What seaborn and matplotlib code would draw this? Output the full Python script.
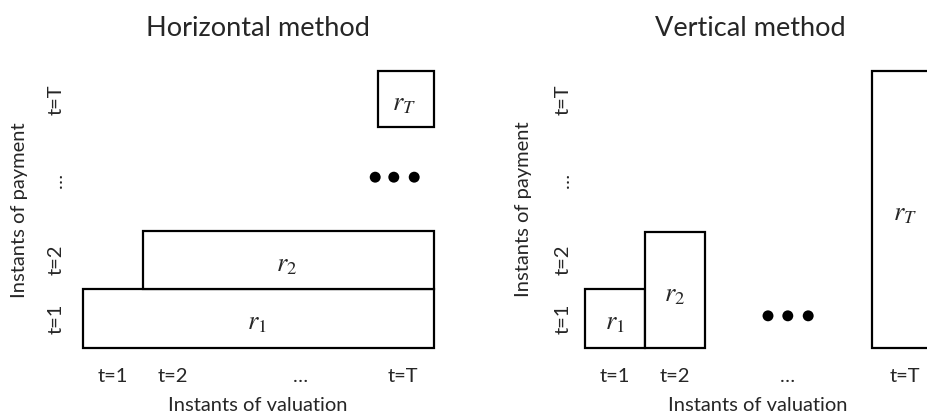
import matplotlib
matplotlib.use("Agg")
import matplotlib.pyplot as plt
import seaborn as sns
import pandas as pd

# ---------------- data ----------------
val_labels = ["t=1", "t=2", "…", "t=T"]          # instants of valuation (x)
pay_labels = ["t=1", "t=2", "…", "t=T"]          # instants of payment (y)
r_labels = ["$r_1$", "$r_2$", "$r_T$"]

# Horizontal method: each r_t spans valuation start..end at payment row t
h_x_start = [0.0, 1.0, 4.92]
h_x_end = [5.85, 5.85, 5.85]
h_y_bottom = [0.0, 1.0, 3.78]
h_y_top = [1.0, 2.0, 4.735]

# Vertical method: each r_t spans payment rows 1..t at valuation slot t
v_x_start = [0.0, 1.0, 4.78]
v_x_end = [1.0, 2.0, 5.90]
v_y_top = [1.0, 1.98, 4.735]

# tick positions
h_xticks = [0.5, 1.5, 3.63, 5.33]
v_xticks = [0.5, 1.5, 3.38, 5.33]
yticks = [0.5, 1.5, 2.87, 4.24]

# ellipsis dots
h_dots_x = [4.87, 5.18, 5.52]
h_dots_y = [2.92, 2.92, 2.92]
v_dots_x = [3.05, 3.38, 3.72]
v_dots_y = [0.55, 0.55, 0.55]

# ---------------- style ----------------
sns.set_theme(style="white")
plt.rcParams["font.family"] = ["Lato", "DejaVu Sans"]
plt.rcParams["mathtext.fontset"] = "stix"

W, H = 927, 415
fig = plt.figure(figsize=(W / 100, H / 100), dpi=100)


def px_axes(l, r, t, b):
    return fig.add_axes([l / W, 1 - b / H, (r - l) / W, (b - t) / H])


ax1 = px_axes(83, 434, 71, 348)
ax2 = px_axes(585, 927, 71, 348)

YMAX = 4.735
TICK_FS = 14.5
LABEL_FS = 14.5
R_FS = 19
TITLE_FS = 19.5

for ax in (ax1, ax2):
    ax.set_ylim(0, YMAX)
    for s in ax.spines.values():
        s.set_visible(False)
    ax.set_facecolor("none")
    ax.tick_params(length=0)

ax1.set_xlim(0, 5.85)
ax2.set_xlim(0, (927 - 585) / 60)

# ---- horizontal method ----
hdf = pd.DataFrame({"start": h_x_start, "end": h_x_end,
                    "bottom": h_y_bottom, "top": h_y_top, "label": r_labels})
ax1.barh(y=hdf["bottom"], width=hdf["end"] - hdf["start"], left=hdf["start"],
         height=hdf["top"] - hdf["bottom"], align="edge",
         facecolor="white", edgecolor="black", linewidth=1.6, clip_on=False)
for _, row in hdf.iterrows():
    ax1.text((row["start"] + row["end"]) / 2 - 0.03, (row["bottom"] + row["top"]) / 2 - 0.07,
             row["label"], ha="center", va="center", fontsize=R_FS)
sns.scatterplot(x=h_dots_x, y=h_dots_y, ax=ax1, color="black", s=62,
                edgecolor="none", clip_on=False, legend=False)

# ---- vertical method ----
vdf = pd.DataFrame({"start": v_x_start, "end": v_x_end, "top": v_y_top, "label": r_labels})
ax2.bar(x=vdf["start"], height=vdf["top"], width=vdf["end"] - vdf["start"], bottom=0,
        align="edge", facecolor="white", edgecolor="black", linewidth=1.6, clip_on=False)
for _, row in vdf.iterrows():
    ax2.text((row["start"] + row["end"]) / 2, row["top"] / 2 - 0.07,
             row["label"], ha="center", va="center", fontsize=R_FS)
sns.scatterplot(x=v_dots_x, y=v_dots_y, ax=ax2, color="black", s=62,
                edgecolor="none", clip_on=False, legend=False)

# ---- ticks & labels ----
for ax, xt, ypad in ((ax1, h_xticks, 13), (ax2, v_xticks, 9.3)):
    ax.set_xticks(xt)
    ax.set_xticklabels(val_labels, fontsize=TICK_FS)
    ax.set_yticks(yticks)
    ax.set_yticklabels(pay_labels, fontsize=TICK_FS, rotation=90, va="center")
    ax.tick_params(axis="x", pad=14.5)
    ax.tick_params(axis="y", pad=ypad)

fig.text(258 / W, 1 - 29 / H, "Horizontal method", ha="center", va="center", fontsize=TITLE_FS)
fig.text(750 / W, 1 - 29 / H, "Vertical method", ha="center", va="center", fontsize=TITLE_FS)
fig.text(258 / W, 1 - 405 / H, "Instants of valuation", ha="center", va="center", fontsize=LABEL_FS)
fig.text(758 / W, 1 - 405 / H, "Instants of valuation", ha="center", va="center", fontsize=LABEL_FS)
fig.text(20 / W, 1 - 210 / H, "Instants of payment", ha="center", va="center",
         rotation=90, fontsize=LABEL_FS)
fig.text(523 / W, 1 - 209 / H, "Instants of payment", ha="center", va="center",
         rotation=90, fontsize=LABEL_FS)

fig.savefig("out.png", dpi=100, facecolor="white")
